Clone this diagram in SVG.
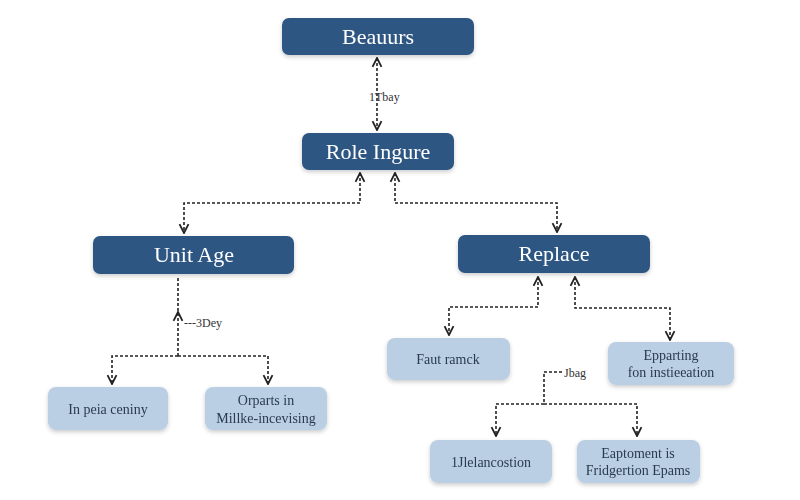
<svg xmlns="http://www.w3.org/2000/svg" width="800" height="500" viewBox="0 0 800 500">
<style>
.d{fill:#2f5683;}
.l{fill:#bacee4;}
.dt{fill:#fff;font-family:"Liberation Serif",serif;font-size:22px;text-anchor:middle;}
.lt{fill:#2a3a4d;font-family:"Liberation Serif",serif;font-size:14px;text-anchor:middle;}
.c{fill:none;stroke:#222;stroke-width:1.6;stroke-dasharray:3,2;}
.lb{fill:#333;font-family:"Liberation Serif",serif;font-size:12px;}
</style>
<defs>
<filter id="s" x="-20%" y="-20%" width="140%" height="160%"><feDropShadow dx="0" dy="2" stdDeviation="2" flood-opacity="0.2"/></filter>
<marker id="a" viewBox="0 0 10 10" refX="9" refY="5" markerWidth="7" markerHeight="7" orient="auto-start-reverse"><path d="M1,1 L9,5 L1,9" fill="none" stroke="#222" stroke-width="1.6"/></marker>
</defs>
<rect width="800" height="500" fill="#fff"/>
<g id="connectors">
<path class="c" d="M377,58 V130" marker-start="url(#a)" marker-end="url(#a)"/>
<text class="lb" x="369" y="101">1Tbay</text>
<path class="c" d="M360,173 V203 H184 V233" marker-start="url(#a)" marker-end="url(#a)"/>
<path class="c" d="M395,173 V203 H557 V232" marker-start="url(#a)" marker-end="url(#a)"/>
<path class="c" d="M178,311 V276"/>
<path class="c" d="M178,356 V312" marker-end="url(#a)"/>
<text class="lb" x="184" y="327">---3Dey</text>
<path class="c" d="M178,356 H112 V384" marker-end="url(#a)"/>
<path class="c" d="M178,356 H268 V384" marker-end="url(#a)"/>
<path class="c" d="M538,277 V307 H449 V335" marker-start="url(#a)" marker-end="url(#a)"/>
<path class="c" d="M575,277 V308 H670 V340" marker-start="url(#a)" marker-end="url(#a)"/>
<path class="c" d="M562,372 H544 V404"/>
<text class="lb" x="564" y="377">Jbag</text>
<path class="c" d="M544,404 H496 V436" marker-end="url(#a)"/>
<path class="c" d="M544,404 H637 V436" marker-end="url(#a)"/>
</g>
<g id="n1" filter="url(#s)"><rect class="d" x="282" y="18" width="192" height="37" rx="7"/><text class="dt" x="378" y="44">Beauurs</text></g>
<g id="n2" filter="url(#s)"><rect class="d" x="302" y="133" width="152" height="37" rx="7"/><text class="dt" x="378" y="159">Role Ingure</text></g>
<g id="n3" filter="url(#s)"><rect class="d" x="93" y="236" width="201" height="38" rx="7"/><text class="dt" x="194" y="262">Unit Age</text></g>
<g id="n4" filter="url(#s)"><rect class="d" x="458" y="235" width="192" height="38" rx="7"/><text class="dt" x="554" y="261">Replace</text></g>
<g id="n5" filter="url(#s)"><rect class="l" x="48" y="387" width="120" height="43" rx="8"/><text class="lt" x="108" y="414">In peia ceniny</text></g>
<g id="n6" filter="url(#s)"><rect class="l" x="205" y="387" width="122" height="43" rx="8"/><text class="lt" x="266" y="405">Orparts in</text><text class="lt" x="266" y="423">Millke-incevising</text></g>
<g id="n7" filter="url(#s)"><rect class="l" x="387" y="338" width="123" height="42" rx="8"/><text class="lt" x="448" y="364">Faut ramck</text></g>
<g id="n8" filter="url(#s)"><rect class="l" x="608" y="342" width="126" height="43" rx="8"/><text class="lt" x="671" y="360">Epparting</text><text class="lt" x="671" y="377">fon instieeation</text></g>
<g id="n9" filter="url(#s)"><rect class="l" x="430" y="440" width="122" height="43" rx="8"/><text class="lt" x="491" y="467">1Jlelancostion</text></g>
<g id="n10" filter="url(#s)"><rect class="l" x="577" y="440" width="123" height="43" rx="8"/><text class="lt" x="638" y="458">Eaptoment is</text><text class="lt" x="638" y="475">Fridgertion Epams</text></g>
</svg>
